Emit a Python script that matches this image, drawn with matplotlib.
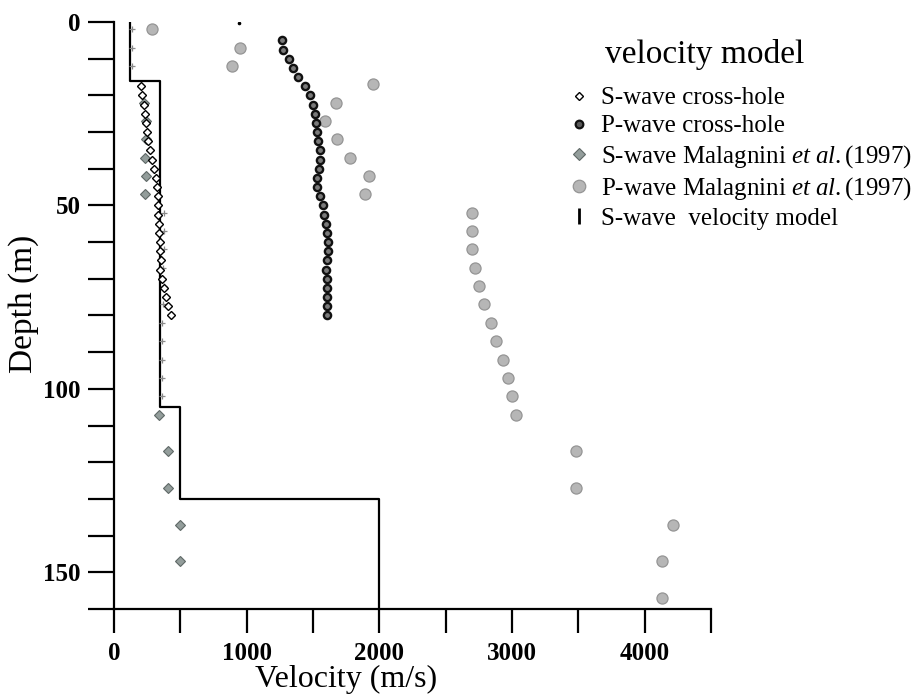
#!/usr/bin/env python3
"""
Velocity-depth profile: cross-hole S/P measurements, Malagnini et al. (1997)
values and the layered S-wave velocity model.
"""
import numpy as np
import matplotlib
matplotlib.use('Agg')
import matplotlib.pyplot as plt
from matplotlib.lines import Line2D

plt.rcParams['font.family'] = 'serif'
plt.rcParams['font.serif'] = ['Liberation Serif', 'DejaVu Serif']
plt.rcParams['mathtext.fontset'] = 'custom'
plt.rcParams['mathtext.rm'] = 'Liberation Serif'
plt.rcParams['mathtext.it'] = 'Liberation Serif:italic'

# S-wave cross-hole (m, m/s)
s_xhole_depth = [17.5, 20, 22.5, 25, 27.5, 30, 32.5, 35, 37.5, 40, 42.5, 45, 47.5,
                 50, 52.5, 55, 57.5, 60, 62.5, 65, 67.5, 70, 72.5, 75, 77.5, 80]
s_xhole_vel = [200, 210, 225, 235, 240, 250, 260, 270, 290, 305, 320, 325, 330,
               330, 335, 340, 340, 345, 350, 355, 350, 360, 375, 390, 410, 430]

# P-wave cross-hole
p_xhole_depth = [5, 7.5, 10, 12.5, 15, 17.5, 20, 22.5, 25, 27.5, 30, 32.5, 35, 37.5,
                 40, 42.5, 45, 47.5, 50, 52.5, 55, 57.5, 60, 62.5, 65, 67.5, 70,
                 72.5, 75, 77.5, 80]
p_xhole_vel = [1263, 1275, 1318, 1351, 1388, 1439, 1476, 1501, 1514, 1522, 1531,
               1539, 1552, 1552, 1547, 1531, 1531, 1552, 1577, 1584, 1595, 1607,
               1614, 1614, 1607, 1597, 1602, 1609, 1609, 1609, 1609]

# Malagnini et al. (1997)
s_mal_depth = [22, 27, 32, 37, 42, 47, 107, 117, 127, 137, 147]
s_mal_vel = [230, 240, 245, 235, 240, 235, 340, 405, 405, 500, 500]

p_mal_depth = [2, 7, 12, 17, 22, 27, 32, 37, 42, 47, 52, 57, 62, 67, 72, 77, 82,
               87, 92, 97, 102, 107, 117, 127, 137, 147, 157]
p_mal_vel = [289, 949, 891, 1953, 1670, 1589, 1682, 1778, 1921, 1891, 2700, 2700,
             2700, 2720, 2750, 2790, 2840, 2880, 2930, 2970, 3000, 3030, 3480,
             3480, 4210, 4130, 4130]

# small marks along the model
mark_depth = [2, 7, 12, 52, 57, 62, 67, 72, 77, 82, 87, 92, 97, 102]
mark_vel = [135, 135, 135, 375, 380, 375, 370, 375, 370, 365, 365, 365, 365, 365]
dot_depth = [0.3]
dot_vel = [940]

# layered S-wave model
layer_top = [0, 16, 105, 130]
layer_bottom = [16, 105, 130, 160]
layer_vel = [120, 350, 500, 2000]

model_vel = np.repeat(layer_vel, 2)
model_depth = np.column_stack([layer_top, layer_bottom]).ravel()

fig = plt.figure(figsize=(9.14, 6.96), dpi=100)
ax = fig.add_axes([0.1247, 0.125, 0.6532, 0.8434])

ax.plot(model_vel, model_depth, color='black', lw=1.6, zorder=2)
ax.plot(mark_vel, mark_depth, ls='none', marker='+', ms=5, mew=0.9,
        color='#8a8a8a', zorder=3)
ax.plot(dot_vel, dot_depth, ls='none', marker='o', ms=1.6, color='black')
ax.plot(s_mal_vel, s_mal_depth, ls='none', marker='D', ms=5.5,
        mfc='#939d9b', mec='#5f6866', mew=0.8, zorder=3)
ax.plot(s_xhole_vel, s_xhole_depth, ls='none', marker='D', ms=4.2,
        mfc='white', mec='black', mew=1.0, zorder=4)
ax.plot(p_xhole_vel, p_xhole_depth, ls='none', marker='o', ms=5.2,
        mfc='#7a7a7a', mec='#111111', mew=1.7, zorder=4)
ax.plot(p_mal_vel, p_mal_depth, ls='none', marker='o', ms=8,
        mfc='#b6b6b6', mec='#959595', mew=0.9, zorder=3)

ax.set_xlim(0, 4500)
ax.set_ylim(160, 0)
ax.set_xticks(np.arange(0, 4501, 500))
ax.set_xticklabels(['0', '', '1000', '', '2000', '', '3000', '', '4000', ''])
ax.set_yticks(np.arange(0, 161, 10))
ax.set_yticklabels(['0', '', '', '', '', '50', '', '', '', '', '100', '', '', '', '',
                    '150', ''])

for side in ('top', 'right'):
    ax.spines[side].set_visible(False)
for side in ('left', 'bottom'):
    ax.spines[side].set_linewidth(1.6)

ax.tick_params(axis='y', direction='out', length=19, width=1.6, pad=5,
               labelsize=18)
ax.tick_params(axis='x', direction='out', length=17, width=1.6, pad=7,
               labelsize=18)
for lbl in ax.get_xticklabels() + ax.get_yticklabels():
    lbl.set_fontweight('bold')

ax.set_xlabel('Velocity (m/s)', fontsize=23)
ax.xaxis.set_label_coords(0.389, -0.095)
ax.set_ylabel('Depth (m)', fontsize=24)
ax.yaxis.set_label_coords(-0.125, 0.52)

handles = [
    Line2D([], [], ls='none', marker='D', ms=4.2, mfc='white', mec='black', mew=1.0),
    Line2D([], [], ls='none', marker='o', ms=5.5, mfc='#5a5a5a', mec='#111111', mew=1.6),
    Line2D([], [], ls='none', marker='D', ms=6, mfc='#939d9b', mec='#5f6866', mew=0.8),
    Line2D([], [], ls='none', marker='o', ms=9, mfc='#b6b6b6', mec='#959595', mew=0.9),
    Line2D([], [], ls='none', marker='|', ms=12, mew=2, color='black'),
]
labels = [
    'S-wave cross-hole',
    'P-wave cross-hole',
    r'S-wave Malagnini $\mathit{et\ al.}$(1997)',
    r'P-wave Malagnini $\mathit{et\ al.}$(1997)',
    'S-wave  velocity model',
]
ax.legend(handles, labels, loc='upper left', bbox_to_anchor=(566 / 914, 1 - 87 / 696),
          bbox_transform=fig.transFigure, frameon=False, fontsize=18,
          handlelength=1.0, handletextpad=0.4, labelspacing=0.22, borderpad=0,
          borderaxespad=0)
fig.text(605 / 914, 1 - 55 / 696, 'velocity model', fontsize=24, ha='left',
         va='center')

fig.savefig('out.png', dpi=100)
